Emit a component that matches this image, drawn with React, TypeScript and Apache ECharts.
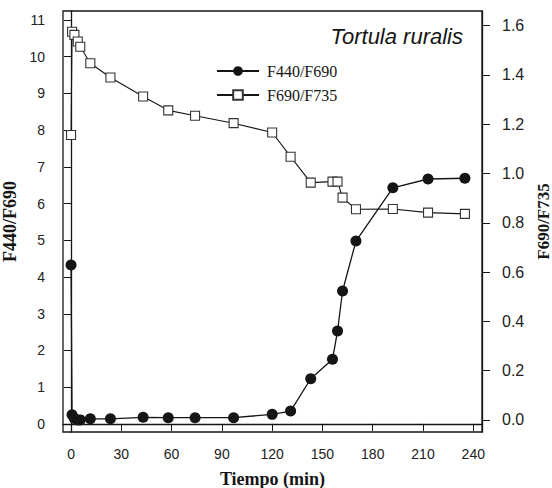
import React, { useEffect, useRef } from "react";
import * as echarts from "echarts";

const times = [0, 0.6, 2, 4, 5.5, 11.5, 23.5, 43, 58, 74, 97, 120, 131, 143, 156, 159, 162, 170, 192, 213, 235];
const f440f690 = [4.33, 0.25, 0.15, 0.11, 0.11, 0.14, 0.14, 0.18, 0.17, 0.17, 0.17, 0.26, 0.35, 1.23, 1.76, 2.53, 3.62, 4.98, 6.43, 6.67, 6.69];
const f690f735 = [1.156, 1.575, 1.562, 1.535, 1.514, 1.447, 1.389, 1.312, 1.256, 1.234, 1.204, 1.166, 1.068, 0.963, 0.967, 0.967, 0.902, 0.855, 0.856, 0.841, 0.836];
const xTicks = [0, 30, 60, 90, 120, 150, 180, 210, 240];
const leftTicks = [0, 1, 2, 3, 4, 5, 6, 7, 8, 9, 10, 11];
const rightTicks = [0, 0.2, 0.4, 0.6, 0.8, 1.0, 1.2, 1.4, 1.6];

const SANS = "'Liberation Sans', Arial, sans-serif";
const SERIF = "'Liberation Serif', 'Times New Roman', serif";
const INK = "#151515";

export default function App() {
  const ref = useRef<HTMLDivElement>(null);
  useEffect(() => {
    if (!ref.current) return;
    const chart = echarts.init(ref.current, null, { renderer: "svg" });
    const axisLine = { show: true, lineStyle: { color: INK, width: 1.3 } };
    chart.setOption({
      animation: false,
      backgroundColor: "#ffffff",
      title: {
        text: "Tortula ruralis",
        right: 84,
        top: 20,
        textStyle: { fontFamily: SANS, fontStyle: "italic", fontWeight: "normal", fontSize: 22, color: INK },
      },
      legend: {
        orient: "vertical",
        left: 211,
        top: 58,
        itemWidth: 42,
        itemHeight: 12,
        itemGap: 8,
        textStyle: { fontFamily: SERIF, fontSize: 16, color: INK, padding: [0, 0, 0, 3] },
        data: ["F440/F690", "F690/F735"],
      },
      grid: {
        left: 63,
        top: 11,
        width: 419,
        height: 421,
        containLabel: false,
        outerBoundsMode: "none",
        show: true,
        borderColor: INK,
        borderWidth: 1.3,
        backgroundColor: "transparent",
      },
      xAxis: {
        type: "value",
        min: -4.8,
        max: 245.2,
        name: "Tiempo (min)",
        nameLocation: "middle",
        nameGap: 38,
        nameTextStyle: { fontFamily: SERIF, fontWeight: "bold", fontSize: 18, color: INK },
        axisLine,
        axisTick: { show: true, length: 7, customValues: xTicks, lineStyle: { color: INK } },
        axisLabel: { customValues: xTicks, margin: 15, fontFamily: SANS, fontSize: 14, color: "#222" },
        splitLine: { show: false },
      },
      yAxis: [
        {
          type: "value",
          position: "left",
          min: -0.22,
          max: 11.245,
          name: "F440/F690",
          nameLocation: "middle",
          nameRotate: 90,
          nameGap: 35,
          nameTextStyle: { fontFamily: SERIF, fontWeight: "bold", fontSize: 18, color: INK },
          axisLine,
          axisTick: { show: true, length: 7, customValues: leftTicks, lineStyle: { color: INK } },
          axisLabel: { customValues: leftTicks, margin: 18, fontFamily: SANS, fontSize: 14, color: "#222" },
          splitLine: { show: false },
        },
        {
          type: "value",
          position: "right",
          min: -0.0487,
          max: 1.659,
          name: "F690/F735",
          nameLocation: "middle",
          nameRotate: 90,
          nameGap: 52,
          nameTextStyle: { fontFamily: SERIF, fontWeight: "bold", fontSize: 17, color: INK },
          axisLine,
          axisTick: { show: true, length: 8, customValues: rightTicks, lineStyle: { color: INK } },
          axisLabel: {
            customValues: rightTicks,
            margin: 20,
            fontFamily: SANS,
            fontSize: 16,
            color: "#222",
            formatter: (v: number) => v.toFixed(1),
          },
          splitLine: { show: false },
        },
      ],
      series: [
        {
          name: "F440/F690",
          type: "line",
          yAxisIndex: 0,
          data: times.map((t, i) => [t, f440f690[i]]),
          symbol: "circle",
          symbolSize: 11,
          showAllSymbol: true,
          lineStyle: { color: INK, width: 1.3 },
          itemStyle: { color: INK, borderColor: INK, borderWidth: 0 },
          z: 3,
        },
        {
          name: "F690/F735",
          type: "line",
          yAxisIndex: 1,
          data: times.map((t, i) => [t, f690f735[i]]),
          symbol: "rect",
          symbolSize: 9,
          showAllSymbol: true,
          lineStyle: { color: INK, width: 1.1 },
          itemStyle: { color: "#ffffff", borderColor: "#333", borderWidth: 1.1 },
          z: 4,
        },
      ],
    });
    return () => chart.dispose();
  }, []);
  return <div ref={ref} style={{ position: "fixed", left: 0, top: 0, width: 552, height: 488, background: "#fff" }} />;
}
